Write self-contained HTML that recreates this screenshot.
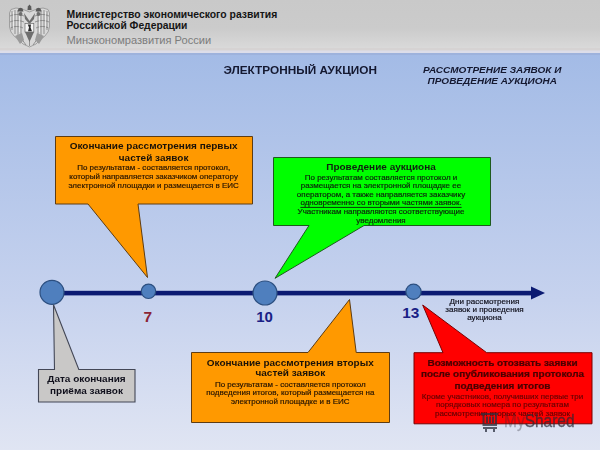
<!DOCTYPE html>
<html><head><meta charset="utf-8">
<style>
html,body{margin:0;padding:0;}
body{width:600px;height:450px;overflow:hidden;position:relative;font-family:"Liberation Sans",sans-serif;
background:linear-gradient(to bottom,#a3bbe6 53px,#c6d2ee 300px,#e0e5f3 450px);}
.hdr{position:absolute;left:0;top:0;width:600px;height:51px;background:linear-gradient(to bottom,#c9c9c9 0,#cbcbcb 28px,#d9d9d9 48px);}
.hdr2{position:absolute;left:0;top:47.7px;width:600px;height:5.3px;background:linear-gradient(to bottom,#d6d3d3 0,#d6d3d3 40%,#dcdde9 60%,#dcdde9 100%);}
.t{position:absolute;white-space:nowrap;line-height:1;}
svg{position:absolute;left:0;top:0;}
.c{text-align:center;}
</style></head><body>
<div class="hdr"></div><div class="hdr2"></div><div style="position:absolute;left:0;top:53px;width:600px;height:1.5px;background:#9db2dc"></div>
<!-- emblem -->
<svg width="60" height="52" viewBox="0 0 60 52" style="left:0;top:0">
 <defs><filter id="bl" x="-10%" y="-10%" width="120%" height="120%"><feGaussianBlur stdDeviation="0.6"/></filter></defs>
 <g filter="url(#bl)">
 <path d="M22 9 L16 8 L11 9.5 L9.5 13 L9.5 27 L11 32 L14.5 36.5 L18 39 L23 44 L29.5 47 L36 44 L41 39 L44.5 36.5 L48 32 L49.5 27 L49.5 13 L48 9.5 L43 8 L37 9 L29.5 12 Z" fill="#d8d8d8" stroke="#8a8a8a" stroke-width="0.7"/>
 <g fill="none" stroke="#727272" stroke-width="0.7">
  <path d="M12 11 V30 M15 10 V34 M18 10 V36 M21 11 V35"/>
  <path d="M47 11 V30 M44 10 V34 M41 10 V36 M38 11 V35"/>
  <path d="M10 16 C14 14 19 14 24 16 M10 22 C14 20 19 20 24 22 M10.5 28 C14 26 19 26 23 28"/>
  <path d="M49 16 C45 14 40 14 35 16 M49 22 C45 20 40 20 35 22 M48.5 28 C45 26 40 26 36 28"/>
  <path d="M21 38 L26 45 M38 38 L33 45 M29.5 36 V46"/>
 </g>
 <g fill="none" stroke="#f4f4f4" stroke-width="0.7">
  <path d="M13.5 12 V28 M19.5 12 V32 M45.5 12 V28 M39.5 12 V32"/>
 </g>
 <g fill="#9a9a9a">
  <path d="M15 36 L22 33 L24 40 L20 44 Z"/>
  <path d="M44 36 L37 33 L35 40 L39 44 Z"/>
 </g>
 <g fill="#5a5a5a">
  <path d="M27.5 10 L27.8 6.5 L29.5 4.5 L31.2 6.5 L31.5 10 Z"/>
  <path d="M17.5 11.5 L18.5 8.5 L20.5 7.8 L22.5 8.5 L23.5 11.5 Z"/>
  <path d="M35.5 11.5 L36.5 8.5 L38.5 7.8 L40.5 8.5 L41.5 11.5 Z"/>
 </g>
 <g fill="#6e6e6e">
  <circle cx="20.5" cy="14" r="2"/>
  <circle cx="38.5" cy="14" r="2"/>
  <path d="M24 13 L29.5 21 L35 13 L34 19 L29.5 24 L25 19 Z"/>
  <path d="M25 32 L29.5 42 L34 32 Z"/>
 </g>
 <rect x="25" y="23.5" width="8.8" height="8.5" fill="#f6f6f6" stroke="#6a6a6a" stroke-width="0.7"/>
 <path d="M27.8 24.5 L31 24.5 L30.6 27.5 L32 31.3 L28 31.3 L29 27.5 Z" fill="#2a2a2a"/>
 </g>
</svg>
<div class="t" style="left:66.50px;top:10.05px;font-size:10.4px;color:#151515;font-weight:bold;">Министерство экономического развития</div>
<div class="t" style="left:66.50px;top:21.03px;font-size:10.3px;color:#151515;font-weight:bold;">Российской Федерации</div>
<div class="t" style="left:66.50px;top:35.00px;font-size:11.1px;color:#7c7c7c;">Минэкономразвития России</div>
<div class="t" style="left:223.50px;top:65.01px;font-size:11.8px;color:#141830;transform:scaleY(0.92);transform-origin:50% 9.99px;font-weight:bold;">ЭЛЕКТРОННЫЙ АУКЦИОН</div>
<div class="t" style="left:423.00px;top:65.03px;font-size:10px;color:#141830;transform:scaleY(0.95);transform-origin:50% 8.46px;font-weight:bold;font-style:italic;">РАССМОТРЕНИЕ ЗАЯВОК И</div>
<div class="t" style="left:427.50px;top:76.03px;font-size:10px;color:#141830;transform:scaleY(0.95);transform-origin:50% 8.46px;font-weight:bold;font-style:italic;">ПРОВЕДЕНИЕ АУКЦИОНА</div>
<svg width="600" height="450" viewBox="0 0 600 450">
 <rect x="52" y="290.8" width="482" height="4.6" fill="#0b1a72"/>
 <path d="M531 286.5 L545 293 L531 299.5 Z" fill="#0b1a72"/>
 <circle cx="52" cy="292.3" r="12" fill="#4f7fbe" stroke="#2c4f80" stroke-width="1.2"/>
 <circle cx="148.5" cy="291.3" r="7.2" fill="#4f7fbe" stroke="#2c4f80" stroke-width="1.2"/>
 <circle cx="265" cy="293" r="12" fill="#4f7fbe" stroke="#2c4f80" stroke-width="1.2"/>
 <circle cx="413.5" cy="291.8" r="7.6" fill="#4f7fbe" stroke="#2c4f80" stroke-width="1.2"/>
 <path d="M55.5 136.5 H252.5 V204 H138 L147.5 277.5 L88 204 H55.5 Z" fill="#ff9900" stroke="#5e3c12" stroke-width="1"/>
 <path d="M273.5 157.5 H490.5 V225.5 H364 L275 278.3 L309 225.5 H273.5 Z" fill="#00ff00" stroke="#1e5a1e" stroke-width="1"/>
 <path d="M38.5 369.5 H54.5 L53.5 304.7 L78.8 369.5 H135 V402 H38.5 Z" fill="#c9c8c7" stroke="#434756" stroke-width="1.1"/>
 <path d="M191.5 352.5 H308 L349.5 299.5 L356.2 352.5 H389.5 V422.5 H191.5 Z" fill="#ff9900" stroke="#5e3c12" stroke-width="1"/>
 <path d="M414 352.7 H443 L422.7 305 L486.7 352.7 H592 V423.8 H414 Z" fill="#ff0000" stroke="#7a0000" stroke-width="1"/>
</svg>
<div class="t c" style="left:-2.20px;width:300px;top:309.03px;font-size:15.5px;color:#8a2434;font-weight:bold;">7</div>
<div class="t c" style="left:114.50px;width:300px;top:309.00px;font-size:15px;color:#1a1f86;font-weight:bold;">10</div>
<div class="t c" style="left:260.70px;width:300px;top:305.01px;font-size:15.4px;color:#1a1f86;font-weight:bold;">13</div>
<div class="t c" style="left:334.50px;width:300px;top:298.04px;font-size:8.1px;color:#10101c;transform:scaleY(0.92);transform-origin:50% 6.86px;-webkit-text-stroke:0.2px #10101c;">Дни рассмотрения</div>
<div class="t c" style="left:334.50px;width:300px;top:306.04px;font-size:8.1px;color:#10101c;transform:scaleY(0.92);transform-origin:50% 6.86px;-webkit-text-stroke:0.2px #10101c;">заявок и проведения</div>
<div class="t c" style="left:334.50px;width:300px;top:314.04px;font-size:8.1px;color:#10101c;transform:scaleY(0.92);transform-origin:50% 6.86px;-webkit-text-stroke:0.2px #10101c;">аукциона</div>
<div class="t c" style="left:3.65px;width:300px;top:141.03px;font-size:10px;color:#1a1208;transform:scaleY(0.92);transform-origin:50% 8.46px;font-weight:bold;">Окончание рассмотрения первых</div>
<div class="t c" style="left:3.65px;width:300px;top:153.03px;font-size:10px;color:#1a1208;transform:scaleY(0.92);transform-origin:50% 8.46px;font-weight:bold;">частей заявок</div>
<div class="t c" style="left:3.65px;width:300px;top:164.03px;font-size:8px;color:#261400;transform:scaleY(0.92);transform-origin:50% 6.77px;-webkit-text-stroke:0.2px #261400;">По результатам - составляется протокол,</div>
<div class="t c" style="left:3.65px;width:300px;top:173.03px;font-size:8px;color:#261400;transform:scaleY(0.92);transform-origin:50% 6.77px;-webkit-text-stroke:0.2px #261400;">который направляется заказчиком оператору</div>
<div class="t c" style="left:3.65px;width:300px;top:182.03px;font-size:8px;color:#261400;transform:scaleY(0.92);transform-origin:50% 6.77px;-webkit-text-stroke:0.2px #261400;">электронной площадки и размещается в ЕИС</div>
<div class="t c" style="left:231.00px;width:300px;top:162.03px;font-size:10px;color:#102010;transform:scaleY(0.92);transform-origin:50% 8.46px;font-weight:bold;">Проведение аукциона</div>
<div class="t c" style="left:231.00px;width:300px;top:174.03px;font-size:8px;color:#0c240c;transform:scaleY(0.92);transform-origin:50% 6.77px;-webkit-text-stroke:0.2px #0c240c;">По результатам составляется протокол и</div>
<div class="t c" style="left:231.00px;width:300px;top:182.03px;font-size:8px;color:#0c240c;transform:scaleY(0.92);transform-origin:50% 6.77px;-webkit-text-stroke:0.2px #0c240c;">размещается на электронной площадке ее</div>
<div class="t c" style="left:231.00px;width:300px;top:191.03px;font-size:8px;color:#0c240c;transform:scaleY(0.92);transform-origin:50% 6.77px;-webkit-text-stroke:0.2px #0c240c;">оператором, а также направляется заказчику</div>
<div class="t c" style="left:231.00px;width:300px;top:199.03px;font-size:8px;color:#0c240c;transform:scaleY(0.92);transform-origin:50% 6.77px;-webkit-text-stroke:0.2px #0c240c;"><u style="text-underline-offset:1.6px;text-decoration-thickness:0.8px">одновременно со вторыми частями заявок.</u></div>
<div class="t c" style="left:231.00px;width:300px;top:208.03px;font-size:8px;color:#0c240c;transform:scaleY(0.92);transform-origin:50% 6.77px;-webkit-text-stroke:0.2px #0c240c;">Участникам направляются соответствующие</div>
<div class="t c" style="left:231.00px;width:300px;top:217.03px;font-size:8px;color:#0c240c;transform:scaleY(0.92);transform-origin:50% 6.77px;-webkit-text-stroke:0.2px #0c240c;">уведомления</div>
<div class="t c" style="left:-63.50px;width:300px;top:374.04px;font-size:10px;color:#10101c;transform:scaleY(0.92);transform-origin:50% 8.46px;font-weight:bold;">Дата окончания</div>
<div class="t c" style="left:-63.50px;width:300px;top:386.04px;font-size:10px;color:#10101c;transform:scaleY(0.92);transform-origin:50% 8.46px;font-weight:bold;">приёма заявок</div>
<div class="t c" style="left:140.30px;width:300px;top:358.04px;font-size:10px;color:#1a1208;transform:scaleY(0.92);transform-origin:50% 8.46px;font-weight:bold;">Окончание рассмотрения вторых</div>
<div class="t c" style="left:140.30px;width:300px;top:368.04px;font-size:10px;color:#1a1208;transform:scaleY(0.92);transform-origin:50% 8.46px;font-weight:bold;">частей заявок</div>
<div class="t c" style="left:140.30px;width:300px;top:381.03px;font-size:8px;color:#261400;transform:scaleY(0.92);transform-origin:50% 6.77px;-webkit-text-stroke:0.2px #261400;">По результатам - составляется протокол</div>
<div class="t c" style="left:140.30px;width:300px;top:389.03px;font-size:8px;color:#261400;transform:scaleY(0.92);transform-origin:50% 6.77px;-webkit-text-stroke:0.2px #261400;">подведения итогов, который размещается на</div>
<div class="t c" style="left:140.30px;width:300px;top:398.03px;font-size:8px;color:#261400;transform:scaleY(0.92);transform-origin:50% 6.77px;-webkit-text-stroke:0.2px #261400;">электронной площадке и в ЕИС</div>
<div class="t c" style="left:352.50px;width:300px;top:358.04px;font-size:10px;color:#4a0000;transform:scaleY(0.92);transform-origin:50% 8.46px;font-weight:bold;-webkit-text-stroke:0.25px #4a0000;">Возможность отозвать заявки</div>
<div class="t c" style="left:352.50px;width:300px;top:369.04px;font-size:10px;color:#4a0000;transform:scaleY(0.92);transform-origin:50% 8.46px;font-weight:bold;-webkit-text-stroke:0.25px #4a0000;">после опубликования протокола</div>
<div class="t c" style="left:352.50px;width:300px;top:381.04px;font-size:10px;color:#4a0000;transform:scaleY(0.92);transform-origin:50% 8.46px;font-weight:bold;-webkit-text-stroke:0.25px #4a0000;">подведения итогов</div>
<div class="t c" style="left:352.50px;width:300px;top:393.03px;font-size:8px;color:#680000;transform:scaleY(0.92);transform-origin:50% 6.77px;-webkit-text-stroke:0.2px #680000;">Кроме участников, получивших первые три</div>
<div class="t c" style="left:352.50px;width:300px;top:401.03px;font-size:8px;color:#680000;transform:scaleY(0.92);transform-origin:50% 6.77px;-webkit-text-stroke:0.2px #680000;">порядковых номера по результатам</div>
<div class="t c" style="left:352.50px;width:300px;top:410.03px;font-size:8px;color:#680000;transform:scaleY(0.92);transform-origin:50% 6.77px;-webkit-text-stroke:0.2px #680000;">рассмотрения вторых частей заявок</div>
<svg width="20" height="22" viewBox="0 0 20 22" style="left:480px;top:411px;opacity:0.75">
 <g fill="none" stroke="#2a2f3f" stroke-width="2">
  <path d="M1 3 H18 M3.5 3 V14 H16 V3 M7 5.5 V12 M10 5.5 V12 M13 5.5 V12 M3 17 H17 M6 17 V21 M14 17 V21"/>
 </g>
</svg>
<div class="t" style="left:503.5px;top:412px;font-size:18px;color:#2a2a35;-webkit-text-stroke:0.3px #2a2a35;transform:scaleX(0.86);transform-origin:left top;"><span style="opacity:0.35">My</span><span style="opacity:0.75">Shared</span></div>
</body></html>
